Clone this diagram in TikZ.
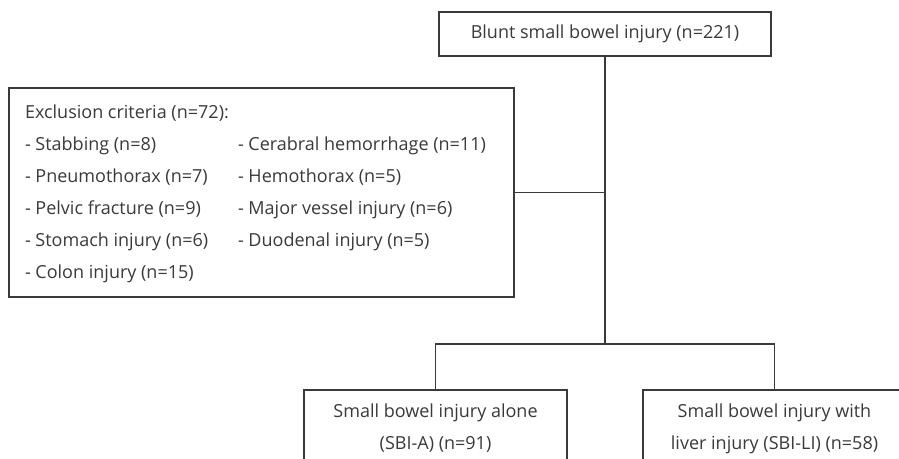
\documentclass[tikz,border=0pt]{standalone}
\usepackage{fontspec}
\setmainfont{Open Sans}
\usepackage{tikz}
\usepackage{xcolor}
\usepackage{array}
\usetikzlibrary{positioning, calc}
\definecolor{flowgray}{HTML}{3A3A3A}

\begin{document}
\begin{tikzpicture}[x=0.75pt, y=-0.75pt, every node/.style={font=\fontsize{13.5}{24}\selectfont, text=flowgray},
  box/.style={draw=flowgray, line width=1pt, fill=white, inner sep=0pt},
  link/.style={draw=flowgray, line width=1pt}]
  \useasboundingbox (0,0) rectangle (899,459);

  \node[box, minimum width=249pt, minimum height=33pt] (blunt) at (605,34) {Blunt small bowel injury (n=221)};

  \node[box, minimum width=378.75pt, minimum height=156.75pt] (excl) at (261.5,192.5) {%
    \begin{tabular}{@{}p{159.75pt}@{}p{195pt}@{}}
      \multicolumn{2}{@{}l@{}}{Exclusion criteria (n=72):}\\
      - Stabbing (n=8) & - Cerabral hemorrhage (n=11)\\
      - Pneumothorax (n=7) & - Hemothorax (n=5)\\
      - Pelvic fracture (n=9) & - Major vessel injury (n=6)\\
      - Stomach injury (n=6) & - Duodenal injury (n=5)\\
      - Colon injury (n=15) & \\
    \end{tabular}};

  \node[box, minimum width=197.25pt, minimum height=57.75pt, align=center] (alone) at (435.5,428.5)
    {Small bowel injury alone\\(SBI-A) (n=91)};
  \node[box, minimum width=197.25pt, minimum height=57.75pt, align=center] (liver) at (774.5,428.5)
    {Small bowel injury with\\liver injury (SBI-LI) (n=58)};

  \coordinate (split) at (605,344);
  \draw[link] (blunt.south) -- (split);
  \draw[link] (excl.east) -- (excl.east -| blunt.south);
  \draw[link] (split) -| (alone.north);
  \draw[link] (split) -| (liver.north);
\end{tikzpicture}
\end{document}
